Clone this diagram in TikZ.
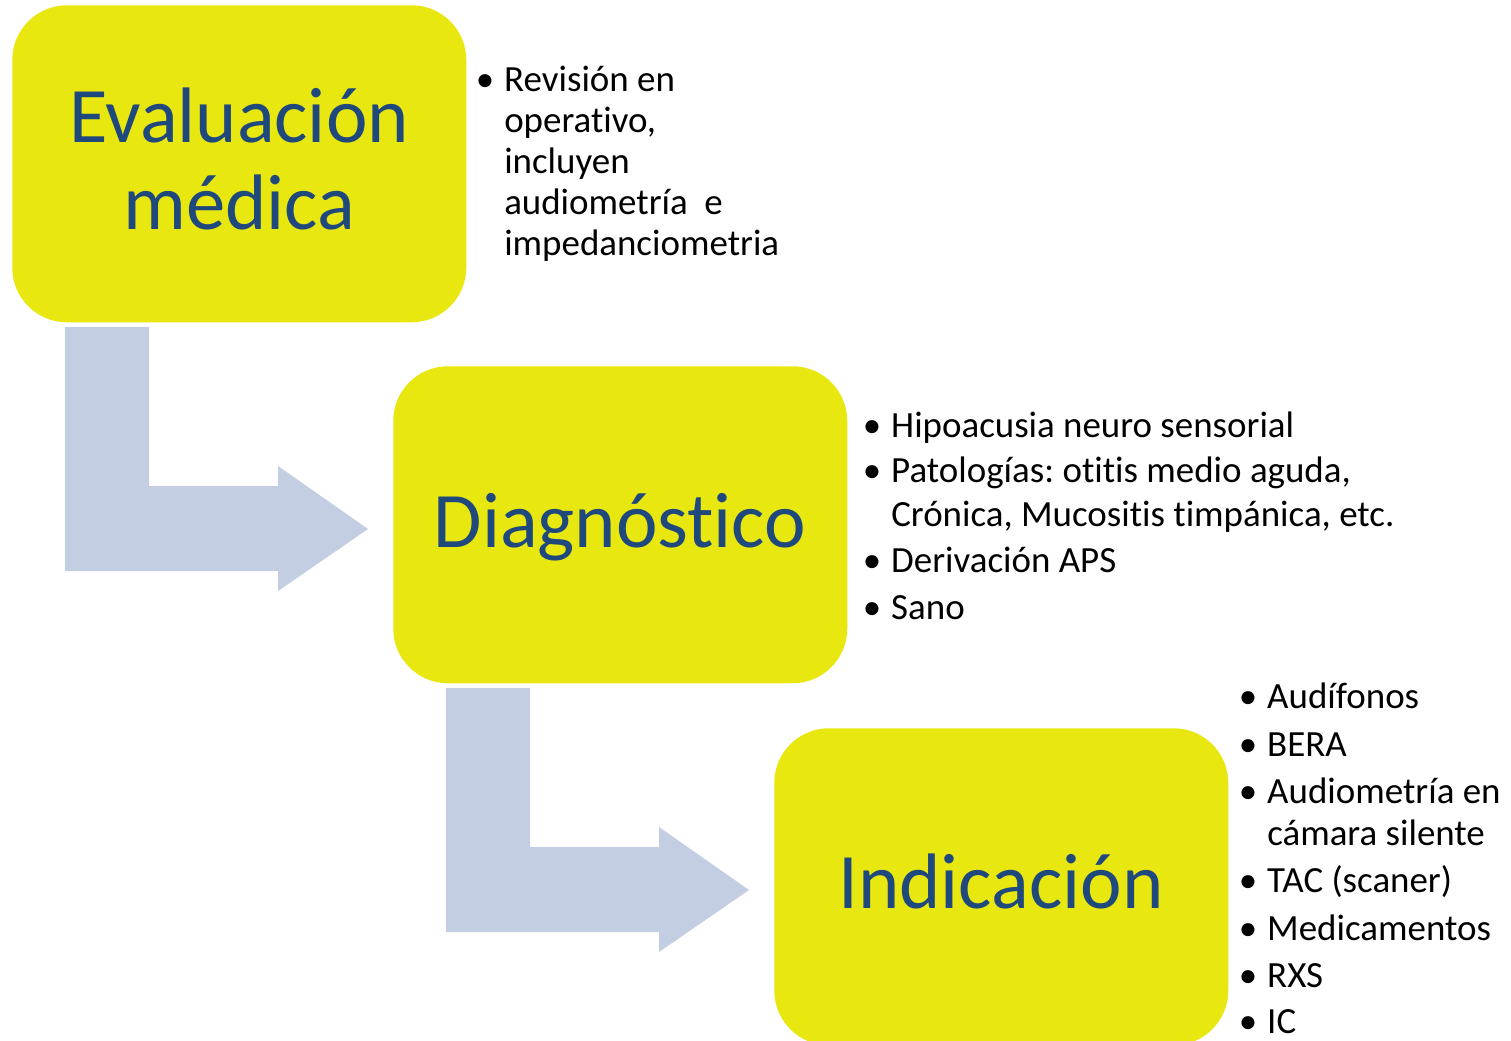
\documentclass[tikz,border=0pt]{standalone}
\usepackage{fontspec}
\setmainfont{Carlito}[Ligatures={NoCommon}]
\definecolor{boxyellow}{HTML}{E8E810}
\definecolor{titleblue}{HTML}{1F497D}
\definecolor{arrowblue}{HTML}{C3CEE2}
\newcommand\bul{\llap{\char"2022\hspace{7.5pt}}}
\frenchspacing
\begin{document}
\begin{tikzpicture}[x=0.75pt,y=-0.75pt,
  box/.style={fill=boxyellow, draw=none, rounded corners=41pt, minimum width=340.5pt,
    minimum height=237.75pt, anchor=north west, inner sep=0pt},
  title/.style={text=titleblue, font=\fontsize{59}{65}\selectfont, anchor=base, inner sep=0pt},
  itm/.style={anchor=base west, inner sep=0pt, font=\fontsize{27.7}{31}\selectfont},
  bentarrow/.pic={\fill[arrowblue] (0,0) -- (84,0) -- (84,159) -- (213,159) -- (213,139)
     -- (303,202) -- (213,264) -- (213,244) -- (0,244) -- cycle;}]
\useasboundingbox (0,0) rectangle (1511,1040);
\clip (0,0) rectangle (1511,1040);
\fill[white] (0,0) rectangle (1511,1040);
% arrows
\pic at (65,327) {bentarrow};
\pic at (446,688) {bentarrow};
% boxes
\node[box] (b1) at (12,5) {};
\node[box] (b2) at (393,366) {};
\node[box] (b3) at (774,728) {};
% titles
\node[title] (t1a) at (239,142) {Evaluación};
\node[title] (t1b) at (239,229) {médica};
\node[title] (t2) at (620,547) {Diagnóstico};
\node[title] (t3) at (1001,908) {Indicación};
% list 1
\node[itm] (l1a) at (504,91) {\bul Revisión en};
\node[itm] (l1b) at (504,132) {operativo,};
\node[itm] (l1c) at (504,173) {incluyen};
\node[itm] (l1d) at (504,214) {audiometría\ \ e};
\node[itm] (l1e) at (504,255) {impedanciometria};
% list 2
\node[itm] (l2a) at (891,437) {\bul Hipoacusia neuro sensorial};
\node[itm] (l2b) at (891,482) {\bul Patologías: otitis medio aguda,};
\node[itm] (l2c) at (891,526) {Crónica, Mucositis timpánica, etc.};
\node[itm] (l2d) at (891,572) {\bul Derivación APS};
\node[itm] (l2e) at (891,619) {\bul Sano};
% list 3
\node[itm] (l3a) at (1267,708) {\bul Audífonos};
\node[itm] (l3b) at (1267,756) {\bul BERA};
\node[itm] (l3c) at (1267,803) {\bul Audiometría en};
\node[itm] (l3d) at (1267,845) {cámara silente};
\node[itm] (l3e) at (1267,892) {\bul TAC (scaner)};
\node[itm] (l3f) at (1267,940) {\bul Medicamentos};
\node[itm] (l3g) at (1267,987) {\bul RXS};
\node[itm] (l3h) at (1267,1033) {\bul IC};
\end{tikzpicture}
\end{document}
